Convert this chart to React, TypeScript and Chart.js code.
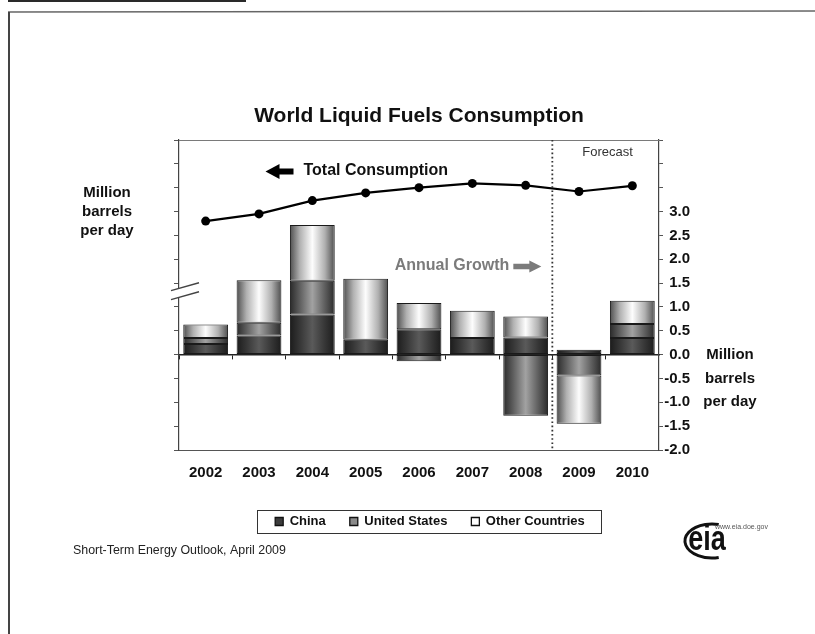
import React, { useEffect, useRef } from 'react';
import { Chart, registerables } from 'chart.js';

Chart.register(...registerables);

const FONT = "'Liberation Sans', Arial, Helvetica, sans-serif";

const years = ['2002', '2003', '2004', '2005', '2006', '2007', '2008', '2009', '2010'];
// World total, million barrels per day (left axis)
const totalConsumption = [78.0, 79.5, 82.3, 83.9, 85.0, 85.9, 85.5, 84.2, 85.4];
// Year-on-year growth by region, million barrels per day (right axis)
const chinaGrowth = [0.22, 0.4, 0.84, 0.31, 0.53, 0.35, 0.36, 0.1, 0.35];
const usGrowth = [0.13, 0.27, 0.71, 0.0, -0.14, 0.0, -1.28, -0.44, 0.29];
const otherGrowth = [0.28, 0.89, 1.17, 1.28, 0.55, 0.57, 0.44, -1.01, 0.49];
const seriesNames = ['China', 'United States', 'Other Countries'];
const forecastStart = '2009';
const leftTickMin = 70;
const rightTickMax = 3.0;

const BAR_FRACTION = 0.84;

// edge / shoulder / centre tones of the cylinder-like shading per region
const shades = [
  ['#1c1c1c', '#363636', '#5a5a5a'],
  ['#2a2a2a', '#5e5e5e', '#a2a2a2'],
  ['#4e4e4e', '#b0b0b0', '#fdfdfd'],
];
const legendFills = ['#3c3c3c', '#8a8a8a', '#ffffff'];

function barFill(tones: string[]) {
  return (c: any) => {
    const chart = c.chart;
    const xs = chart.scales && chart.scales.x;
    if (c.type !== 'data' || !xs || c.dataIndex === undefined || !xs.width) return tones[1];
    const cx = xs.getPixelForValue(c.dataIndex);
    const half = ((xs.width / years.length) * BAR_FRACTION) / 2;
    const g = chart.ctx.createLinearGradient(cx - half, 0, cx + half, 0);
    g.addColorStop(0, tones[0]);
    g.addColorStop(0.22, tones[1]);
    g.addColorStop(0.5, tones[2]);
    g.addColorStop(0.78, tones[1]);
    g.addColorStop(1, tones[0]);
    return g;
  };
}

function arrow(ctx: CanvasRenderingContext2D, tipX: number, y: number, dir: number, len: number, head: number, headHalf: number, shaftHalf: number, color: string) {
  const tail = tipX - dir * len;
  const neck = tipX - dir * head;
  ctx.fillStyle = color;
  ctx.beginPath();
  ctx.moveTo(tipX, y);
  ctx.lineTo(neck, y - headHalf);
  ctx.lineTo(neck, y - shaftHalf);
  ctx.lineTo(tail, y - shaftHalf);
  ctx.lineTo(tail, y + shaftHalf);
  ctx.lineTo(neck, y + shaftHalf);
  ctx.lineTo(neck, y + headHalf);
  ctx.closePath();
  ctx.fill();
}

const decorations = {
  id: 'decorations',
  afterDraw(chart: any) {
    const { ctx, chartArea: a, scales } = chart;
    const xs = scales.x;
    const yL = scales.yL;
    const yR = scales.yR;
    ctx.save();

    // page frame
    ctx.fillStyle = '#2a2a2a';
    ctx.fillRect(8, 0, 238, 2);
    ctx.strokeStyle = '#666';
    ctx.lineWidth = 1.5;
    ctx.beginPath();
    ctx.moveTo(8, 12);
    ctx.lineTo(815, 11);
    ctx.stroke();
    ctx.strokeStyle = '#444';
    ctx.lineWidth = 2;
    ctx.beginPath();
    ctx.moveTo(9, 12);
    ctx.lineTo(9, 634);
    ctx.stroke();

    // top edge of the plot area
    ctx.strokeStyle = '#7a7a7a';
    ctx.lineWidth = 1;
    ctx.beginPath();
    ctx.moveTo(a.left, a.top + 0.5);
    ctx.lineTo(a.right, a.top + 0.5);
    ctx.stroke();

    // forecast divider
    const fi = years.indexOf(forecastStart);
    const xDiv = (xs.getPixelForValue(fi - 1) + xs.getPixelForValue(fi)) / 2;
    ctx.setLineDash([1.6, 2.6]);
    ctx.lineWidth = 1.8;
    ctx.strokeStyle = '#333';
    ctx.beginPath();
    ctx.moveTo(xDiv, a.top);
    ctx.lineTo(xDiv, a.bottom);
    ctx.stroke();
    ctx.setLineDash([]);

    ctx.fillStyle = '#333';
    ctx.font = `13px ${FONT}`;
    ctx.textAlign = 'left';
    ctx.textBaseline = 'middle';
    ctx.fillText('Forecast', xDiv + 30, a.top + 12);

    // axis break on the left scale
    const by = yL.getPixelForValue(63.3);
    const bx0 = a.left - 8;
    const bx1 = a.left + 20;
    const rise = 3.9;
    ctx.fillStyle = '#fff';
    ctx.beginPath();
    ctx.moveTo(bx0, by - 4.5 + rise);
    ctx.lineTo(bx1, by - 4.5 - rise);
    ctx.lineTo(bx1, by + 4.5 - rise);
    ctx.lineTo(bx0, by + 4.5 + rise);
    ctx.closePath();
    ctx.fill();
    ctx.strokeStyle = '#444';
    ctx.lineWidth = 1.4;
    ctx.beginPath();
    ctx.moveTo(bx0, by - 4.5 + rise);
    ctx.lineTo(bx1, by - 4.5 - rise);
    ctx.moveTo(bx0, by + 4.5 + rise);
    ctx.lineTo(bx1, by + 4.5 - rise);
    ctx.stroke();

    // series call-outs
    const tcY = yL.getPixelForValue(88.4);
    const tcTip = xs.getPixelForValue(1) + 6.5;
    arrow(ctx, tcTip, tcY, -1, 28, 14, 7.5, 3, '#000');
    ctx.fillStyle = '#111';
    ctx.font = `bold 16px ${FONT}`;
    ctx.textAlign = 'left';
    ctx.fillText('Total Consumption', tcTip + 38, tcY - 1);

    const agY = yR.getPixelForValue(1.87);
    const agTip = xDiv - 11;
    arrow(ctx, agTip, agY + 1, 1, 28, 12, 6, 2.8, '#7b7b7b');
    ctx.fillStyle = '#7b7b7b';
    ctx.font = `bold 16px ${FONT}`;
    ctx.textAlign = 'right';
    ctx.fillText('Annual Growth', agTip - 32, agY);

    // unit captions beside both value axes
    ctx.fillStyle = '#111';
    ctx.font = `bold 15px ${FONT}`;
    ctx.textAlign = 'center';
    const unit = ['Million', 'barrels', 'per day'];
    [84, 80, 76].forEach((v, i) => ctx.fillText(unit[i], a.left - 72, yL.getPixelForValue(v)));
    [0, -0.5, -1.0].forEach((v, i) => ctx.fillText(unit[i], a.right + 71, yR.getPixelForValue(v)));

    // frame round the legend
    const lg = chart.legend;
    if (lg && lg.legendHitBoxes && lg.legendHitBoxes.length) {
      const hb = lg.legendHitBoxes;
      const first = hb[0];
      const last = hb[hb.length - 1];
      const cy = first.top + first.height / 2;
      const l = first.left - 18;
      const r = last.left + last.width + 16;
      ctx.strokeStyle = '#333';
      ctx.lineWidth = 1;
      ctx.strokeRect(Math.round(l) + 0.5, Math.round(cy - 12) + 0.5, Math.round(r - l), 23);
    }

    // source note
    ctx.fillStyle = '#222';
    ctx.font = `12.4px ${FONT}`;
    ctx.textAlign = 'left';
    ctx.fillText('Short-Term Energy Outlook, April 2009', 73, 550.5);

    // agency mark
    ctx.strokeStyle = '#111';
    ctx.lineWidth = 3;
    ctx.beginPath();
    ctx.ellipse(712, 541, 27, 17, 0, Math.PI * 0.42, Math.PI * 1.58);
    ctx.stroke();
    ctx.save();
    ctx.translate(707, 540);
    ctx.scale(1, 1.3);
    ctx.fillStyle = '#111';
    ctx.font = `bold 27px ${FONT}`;
    ctx.textAlign = 'center';
    ctx.textBaseline = 'middle';
    ctx.fillText('eia', 0, 0);
    ctx.restore();
    ctx.fillStyle = '#555';
    ctx.font = `7px ${FONT}`;
    ctx.textAlign = 'left';
    ctx.fillText('www.eia.doe.gov', 715, 527);

    ctx.restore();
  },
};

export default function App() {
  const ref = useRef<HTMLCanvasElement>(null);

  useEffect(() => {
    if (!ref.current) return;
    const tickFont = { family: FONT, size: 15, weight: 'bold' as const };
    const barSets = [chinaGrowth, usGrowth, otherGrowth].map((values, i) => ({
      type: 'bar' as const,
      label: seriesNames[i],
      data: values,
      xAxisID: 'x',
      yAxisID: 'yR',
      stack: 'growth',
      backgroundColor: barFill(shades[i]),
      borderColor: '#1a1a1a',
      borderWidth: 1,
      borderSkipped: false,
      categoryPercentage: 1,
      barPercentage: BAR_FRACTION,
      order: 0,
    }));

    const chart = new Chart(ref.current, {
      type: 'bar',
      data: {
        labels: years,
        datasets: [
          {
            type: 'line',
            label: 'Total Consumption',
            data: totalConsumption,
            xAxisID: 'x',
            yAxisID: 'yL',
            borderColor: '#000',
            borderWidth: 2.2,
            pointRadius: 4.5,
            pointBackgroundColor: '#000',
            pointBorderWidth: 0,
            tension: 0,
            order: -1,
          } as any,
          ...barSets,
        ],
      },
      options: {
        responsive: false,
        devicePixelRatio: 1,
        animation: false,
        events: [],
        layout: { padding: { left: 170, right: 125, top: 104, bottom: 96 } },
        plugins: {
          tooltip: { enabled: false },
          title: {
            display: true,
            text: 'World Liquid Fuels Consumption',
            fullSize: false,
            color: '#111',
            font: { family: FONT, size: 21, weight: 'bold' },
            padding: { top: 0, bottom: 10.8 },
          },
          legend: {
            display: true,
            position: 'bottom',
            labels: {
              boxWidth: 8,
              boxHeight: 8,
              padding: 24,
              color: '#111',
              font: { family: FONT, size: 13, weight: 'bold' },
              generateLabels: (c: any) =>
                (Chart.defaults.plugins.legend.labels.generateLabels as any)(c)
                  .filter((it: any) => it.datasetIndex > 0)
                  .map((it: any) => ({
                    ...it,
                    fillStyle: legendFills[it.datasetIndex - 1],
                    strokeStyle: '#111',
                    lineWidth: 1.3,
                  })),
            },
          },
        },
        scales: {
          x: {
            type: 'category',
            position: 'bottom',
            stacked: true,
            offset: true,
            grid: { display: true, drawOnChartArea: false, drawTicks: false, offset: true, color: '#555' },
            border: { display: true, color: '#555', width: 1 },
            ticks: { font: tickFont, color: '#111', padding: 14, autoSkip: false, maxRotation: 0 },
            afterFit: (s: any) => {
              s.height = 41;
            },
          },
          xZero: {
            type: 'category',
            axis: 'x',
            position: { yR: 0 },
            offset: true,
            grid: { display: true, drawOnChartArea: false, drawTicks: true, tickLength: 4, offset: true, color: '#222', lineWidth: 1 },
            border: { display: true, color: '#222', width: 1.4 },
            ticks: { display: false },
          } as any,
          yL: {
            type: 'linear',
            position: 'left',
            min: 30,
            max: 95,
            grid: { drawOnChartArea: false, tickLength: 5, color: '#555' },
            border: { display: true, color: '#444', width: 1.2 },
            ticks: {
              stepSize: 5,
              maxTicksLimit: 100,
              autoSkip: false,
              padding: 7,
              font: tickFont,
              color: '#111',
              callback: (v: any) => (Number(v) >= leftTickMin ? String(v) : ''),
            },
            afterFit: (s: any) => {
              s.width = 9;
            },
          },
          yR: {
            type: 'linear',
            position: 'right',
            min: -2,
            max: 4.5,
            stacked: true,
            grid: { drawOnChartArea: false, tickLength: 4, color: '#555' },
            border: { display: true, color: '#444', width: 1.2 },
            ticks: {
              stepSize: 0.5,
              maxTicksLimit: 100,
              autoSkip: false,
              crossAlign: 'far',
              font: tickFont,
              color: '#111',
              callback: (v: any) => (Number(v) <= rightTickMax + 1e-9 ? Number(v).toFixed(1) : ''),
            },
            afterFit: (s: any) => {
              s.width = 31;
            },
          },
        },
      } as any,
      plugins: [decorations],
    });
    return () => chart.destroy();
  }, []);

  return (
    <div style={{ position: 'absolute', left: 0, top: 0, width: 815, height: 634, background: '#fff' }}>
      <canvas ref={ref} width={815} height={634} style={{ display: 'block', width: 815, height: 634 }} />
    </div>
  );
}
